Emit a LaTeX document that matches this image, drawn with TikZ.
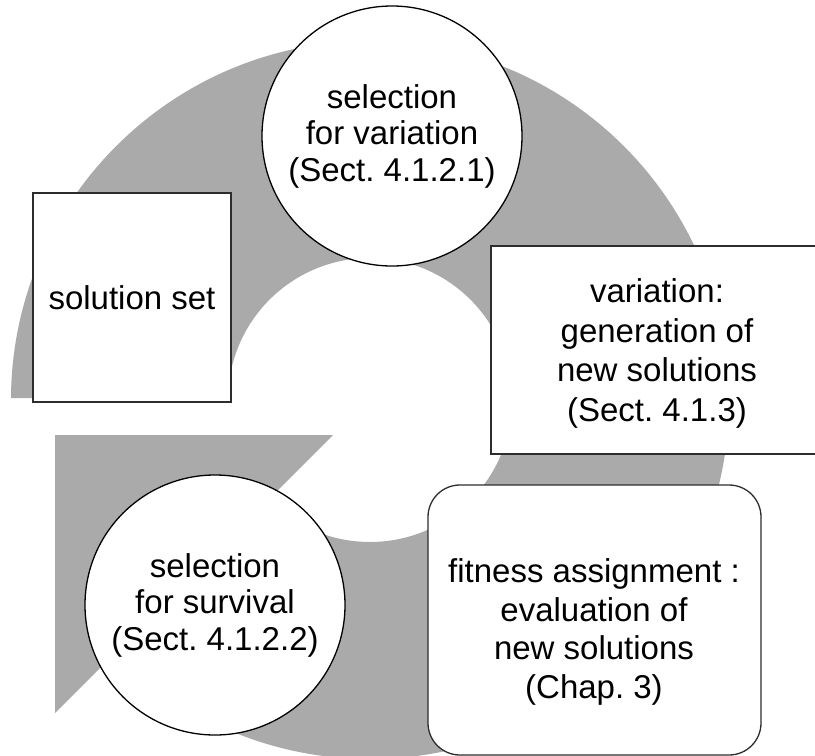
\documentclass[tikz,border=0pt]{standalone}
\usepackage{fontspec}
\setmainfont{Liberation Sans}
\frenchspacing
\definecolor{ringgray}{RGB}{170,170,170}
\definecolor{boxline}{RGB}{45,45,45}
\begin{document}
\begin{tikzpicture}[x=1pt,y=-1pt,
  txt/.style={align=center, inner sep=0pt, font=\fontsize{33}{36.5}\selectfont},
  stage/.style={circle, draw=black, line width=1.3pt, fill=white, minimum size=260pt, inner sep=0pt, txt},
  panel/.style={rectangle, draw=boxline, line width=1.3pt, fill=white, inner sep=0pt}]
\useasboundingbox (0,0) rectangle (815,756);
% gray circular band with its gap on the left
\begin{scope}
  \clip (-10,-10) -- (840,-10) -- (840,800) -- (-32,800) -- (370,398) -- (-10,398) -- cycle;
  \fill[ringgray, even odd rule] (370,400) circle[radius=359pt] (370,400) circle[radius=142pt];
\end{scope}
% arrow head
\fill[ringgray] (55,435) -- (333,435) -- (55,713) -- cycle;
% stages
\node[panel, txt, minimum width=198pt, minimum height=209pt] (sol) at (132,297.5) {solution set};
\node[stage] (selvar) at (392,136) {selection\\for variation\\(Sect. 4.1.2.1)};
\node[panel, minimum width=339pt, minimum height=208pt] (var) at (660.5,350) {};
\node[txt, font=\fontsize{33}{39.5}\selectfont] (varlbl) at (657,353.5) {variation:\\generation of\\new solutions\\(Sect. 4.1.3)};
\node[panel, rounded corners=32pt, minimum width=333pt, minimum height=270pt] (fit) at (594.5,620) {};
\node[txt, font=\fontsize{33}{38.5}\selectfont] (fitlbl) at (594,632) {fitness assignment :\\evaluation of\\new solutions\\(Chap. 3)};
\node[stage] (selsurv) at (215,605) {selection\\for survival\\(Sect. 4.1.2.2)};
\end{tikzpicture}
\end{document}
